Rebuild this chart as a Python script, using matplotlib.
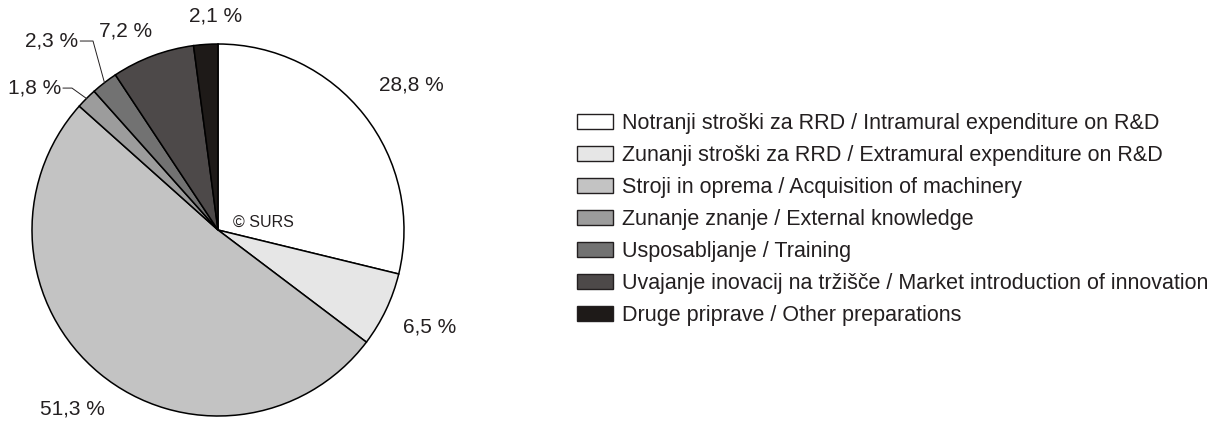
import numpy as np
import matplotlib
matplotlib.use("Agg")
import matplotlib.pyplot as plt
import matplotlib.patches as mpatches

plt.rcParams["font.family"] = ["Liberation Sans", "DejaVu Sans"]

# data
categories = [
    "Notranji stroški za RRD / Intramural expenditure on R&D",
    "Zunanji stroški za RRD / Extramural expenditure on R&D",
    "Stroji in oprema / Acquisition of machinery",
    "Zunanje znanje / External knowledge",
    "Usposabljanje / Training",
    "Uvajanje inovacij na tržišče / Market introduction of innovation",
    "Druge priprave / Other preparations",
]
shares = [28.8, 6.5, 51.3, 1.8, 2.3, 7.2, 2.1]
labels = ["28,8 %", "6,5 %", "51,3 %", "1,8 %", "2,3 %", "7,2 %", "2,1 %"]

_colors = ["#ffffff", "#e6e6e6", "#c3c3c3", "#9c9c9c", "#727272", "#4d4949", "#1e1a18"]
_text = "#231f20"

W, H = 1216, 421
fig = plt.figure(figsize=(W / 100, H / 100), dpi=100)

# pie axes placed in pixels: centre (218, 230) from top, radius 186
cx, cy, R = 218, 230, 186
ax = fig.add_axes([(cx - R) / W, (H - cy - R) / H, 2 * R / W, 2 * R / H])

wedges, _ = ax.pie(
    shares,
    colors=_colors,
    startangle=90,
    counterclock=False,
    radius=1.0,
    wedgeprops=dict(edgecolor="black", linewidth=1.1),
)
ax.set_xlim(-1, 1)
ax.set_ylim(-1, 1)
ax.set_aspect("equal")
ax.axis("off")

# label placement: distance factor and angle tweak per slice
_dist = [1.30, 1.25, 1.24, None, None, 1.18, 1.15]
_dang = [-1.4, 0.8, 0.4, 0, 0, 4.4, -3.0]
cum = np.cumsum([0] + shares)
mids = [90 - 3.6 * (cum[i] + shares[i] / 2) for i in range(len(shares))]

for i, lab in enumerate(labels):
    if _dist[i] is None:
        continue
    a = np.deg2rad(mids[i] + _dang[i])
    ax.text(_dist[i] * np.cos(a), _dist[i] * np.sin(a), lab, ha="center",
            va="center", fontsize=15, color=_text, clip_on=False)

# small slices with leader lines
for i, (tx, ty, kx) in zip([3, 4], [(-0.845, 0.763, -0.785), (-0.752, 1.016, -0.672)]):
    a = np.deg2rad(mids[i])
    ex, ey = np.cos(a), np.sin(a)
    ax.plot([tx + 0.012, kx, ex], [ty, ty, ey], color=_text, linewidth=0.7,
            clip_on=False)
    ax.text(tx, ty, labels[i], ha="right", va="center", fontsize=15,
            color=_text, clip_on=False)

ax.text(0.08, 0.043, "© SURS", ha="left", va="center", fontsize=11.5, color=_text)

handles = [mpatches.Patch(facecolor=c, edgecolor="#231f20", linewidth=1.0) for c in _colors]
fig.legend(
    handles,
    categories,
    loc="upper left",
    bbox_to_anchor=(577 / W, 1 - 113 / H),
    frameon=False,
    fontsize=15.5,
    handlelength=1.69,
    handleheight=0.72,
    handletextpad=0.42,
    labelspacing=0.51,
    borderpad=0,
    borderaxespad=0,
    labelcolor=_text,
)

fig.savefig("out.png", dpi=100)
